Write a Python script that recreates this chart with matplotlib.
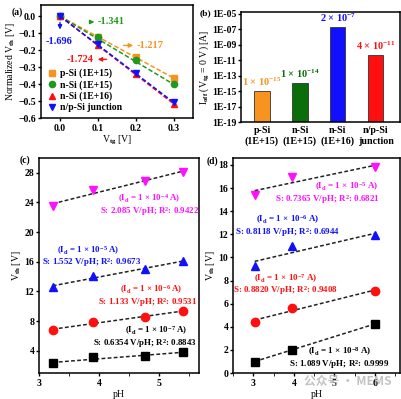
import numpy as np
from matplotlib import pyplot as plt
from matplotlib.ticker import MultipleLocator

plt.rcParams['font.family'] = ['Liberation Serif', 'Noto Sans CJK SC']
plt.rcParams['font.weight'] = 'bold'
plt.rcParams['font.size'] = 7
plt.rcParams['mathtext.fontset'] = 'custom'
plt.rcParams['mathtext.rm'] = 'Liberation Serif:bold'
plt.rcParams['mathtext.it'] = 'Liberation Serif:bold'
plt.rcParams['mathtext.bf'] = 'Liberation Serif:bold'
plt.rcParams['mathtext.default'] = 'rm'
plt.rcParams['axes.linewidth'] = 1.1
plt.rcParams['xtick.major.width'] = 1.0
plt.rcParams['ytick.major.width'] = 1.0
plt.rcParams['xtick.major.size'] = 2.5
plt.rcParams['ytick.major.size'] = 2.5
plt.rcParams['xtick.major.pad'] = 1.5
plt.rcParams['ytick.major.pad'] = 1.0

ORANGE = '#f7931e'
GREEN = '#1f9a1f'
DKGREEN = '#0a6e0a'
BLUE = '#1010ff'
RED = '#ff1010'
MAGENTA = '#ff10ff'

# (a) normalized Vth vs Vtg
vtg = [0.0, 0.1, 0.2, 0.3]
a_names = ['p-Si (1E+15)', 'n-Si (1E+15)', 'n-Si (1E+16)', 'n/p-Si junction']
a_vals = [
    [0.0, -0.12, -0.24, -0.365],
    [0.0, -0.12, -0.255, -0.40],
    [0.0, -0.17, -0.34, -0.515],
    [0.0, -0.165, -0.335, -0.505],
]
a_slopes = [-1.217, -1.341, -1.724, -1.696]

# (b) off current
b_labels = ['p-Si\n(1E+15)', 'n-Si\n(1E+15)', 'n-Si\n(1E+16)', 'n/p-Si\njunction']
b_vals = [1e-15, 1e-14, 2e-7, 4e-11]
b_text = [r'1 × 10$^{-15}$', r'1 × 10$^{-14}$', r'2 × 10$^{-7}$', r'4 × 10$^{-11}$']

# (c) Vth vs pH
c_ph = [3.23, 3.9, 4.77, 5.4]
c_vals = [
    [2.3, 3.1, 3.3, 3.8],
    [6.8, 7.9, 8.5, 9.4],
    [12.6, 14.1, 15.0, 16.1],
    [23.5, 25.7, 26.9, 28.1],
]
c_id = ['7', '6', '5', '4']
c_fit = ['S: 0.6354 V/pH; R$^2$: 0.8843', 'S: 1.133 V/pH; R$^2$: 0.9531',
         'S: 1.552 V/pH; R$^2$: 0.9673', 'S: 2.085 V/pH; R$^2$: 0.9422']

# (d) Vth vs pH
d_ph = [3.03, 3.95, 6.0]
d_vals = [
    [1.0, 2.0, 4.25],
    [4.4, 5.65, 7.1],
    [9.25, 11.0, 11.9],
    [15.4, 17.0, 17.8],
]
d_id = ['8', '7', '6', '5']
d_fit = ['S: 1.089 V/pH; R$^2$: 0.9999', 'S: 0.8820 V/pH; R$^2$: 0.9408',
         'S: 0.8118 V/pH; R$^2$: 0.6944', 'S: 0.7365 V/pH; R$^2$: 0.6821']

fig = plt.figure(figsize=(4.02, 3.99), dpi=100)

# ---- (a)
ax = fig.add_axes([0.102, 0.704, 0.378, 0.283])
a_colors = [ORANGE, GREEN, RED, BLUE]
a_markers = ['s', 'o', '^', 'v']
xs = np.array([0.0, 0.3])
for vals, s, c, m, name in zip(a_vals, a_slopes, a_colors, a_markers, a_names):
    ax.plot(xs, s * xs, '--', color=c, lw=1.1, dashes=(3, 1.5))
    ax.plot(vtg, vals, m, color=c, ms=4.5, ls='none', label=name)
ax.set_xlim(-0.05, 0.35)
ax.set_ylim(-0.6, 0.065)
ax.set_xticks(vtg)
ax.set_yticks(np.arange(-0.6, 0.01, 0.1))
ax.set_xlabel(r'V$_{tg}$ [V]', labelpad=1)
ax.set_ylabel(r'Normalized V$_{th}$ [V]', labelpad=1)
ax.legend(loc='lower left', frameon=False, handlelength=1, handletextpad=0.4,
          labelspacing=0.2, borderaxespad=0.2, fontsize=7)
ax.annotate('', xy=(0.098, -0.034), xytext=(0.07, -0.034),
            arrowprops=dict(arrowstyle='-|>', color=GREEN, lw=1, mutation_scale=6))
ax.text(0.1, -0.034, '-1.341', color=GREEN, fontsize=7.5, va='center')
ax.annotate('', xy=(0.2, -0.172), xytext=(0.16, -0.172),
            arrowprops=dict(arrowstyle='-|>', color=ORANGE, lw=1, mutation_scale=6))
ax.text(0.203, -0.172, '-1.217', color=ORANGE, fontsize=7.5, va='center')
ax.annotate('', xy=(0.092, -0.254), xytext=(0.13, -0.254),
            arrowprops=dict(arrowstyle='-|>', color=RED, lw=1, mutation_scale=6))
ax.text(0.088, -0.254, '-1.724', color=RED, fontsize=7.5, va='center', ha='right')
ax.annotate('', xy=(0.0, -0.095), xytext=(0.0, -0.02),
            arrowprops=dict(arrowstyle='-|>', color=BLUE, lw=1, mutation_scale=6))
ax.text(-0.003, -0.148, '-1.696', color=BLUE, fontsize=7.5, va='center', ha='center')
fig.text(0.028, 0.963, '(a)', fontsize=7)

# ---- (b)
ax = fig.add_axes([0.600, 0.694, 0.395, 0.276])
b_colors = [ORANGE, DKGREEN, BLUE, RED]
pos = np.arange(len(b_vals))
ax.bar(pos, b_vals, width=0.4, color=b_colors, edgecolor='#333333', lw=0.6, bottom=1e-19)
for p, v, t, c in zip(pos, b_vals, b_text, b_colors):
    ax.text(p, v * 2.5, t, color=c, ha='center', va='bottom', fontsize=7.5)
ax.set_yscale('log')
ax.set_ylim(1e-19, 10 ** -4.8)
ax.set_xlim(-0.55, 3.64)
ax.set_yticks([10.0 ** e for e in range(-19, -4, 2)])
ax.set_yticklabels(['1E%03d' % e for e in range(-19, -4, 2)])
ax.yaxis.set_minor_locator(plt.NullLocator())
ax.set_xticks(pos)
ax.set_xticklabels(b_labels, fontsize=7.2, linespacing=1.2)
ax.tick_params(axis='x', length=0, pad=3)
ax.set_ylabel(r'I$_{off}$ (V$_{tg}$ = 0 V) [A]', labelpad=1)
fig.text(0.497, 0.962, '(b)', fontsize=6.8)

# ---- (c)
colors4 = ['black', RED, BLUE, MAGENTA]
markers4 = ['s', 'o', '^', 'v']
ax = fig.add_axes([0.097, 0.065, 0.398, 0.539])
for vals, c, m in zip(c_vals, colors4, markers4):
    k, b = np.polyfit(c_ph, vals, 1)
    xf = np.array([c_ph[0], c_ph[-1]])
    ax.plot(xf, k * xf + b, '--', color='#222222', lw=1.1, dashes=(2.5, 1.5))
    ax.plot(c_ph, vals, m, color=c, ms=6, ls='none')
c_pos = [(4.95, 6.65, 4.77, 4.95), (4.87, 12.25, 4.82, 10.55),
         (3.82, 17.55, 3.87, 15.85), (4.84, 24.45, 4.84, 22.75)]
for i, c in enumerate(colors4):
    x1, y1, x2, y2 = c_pos[i]
    ax.text(x1, y1, '(I$_d$ = 1 × 10$^{-%s}$ A)' % c_id[i], color=c, ha='center', va='center', fontsize=6.4)
    ax.text(x2, y2, c_fit[i], color=c, ha='center', va='center', fontsize=6.4)
ax.set_xlim(3, 5.67)
ax.set_ylim(1, 30)
ax.set_xticks([3, 4, 5])
ax.xaxis.set_minor_locator(MultipleLocator(0.5))
ax.set_yticks([4, 8, 12, 16, 20, 24, 28])
ax.set_xlabel('pH', labelpad=2)
ax.set_ylabel(r'V$_{th}$ [V]', labelpad=1)
fig.text(0.048, 0.593, '(c)', fontsize=7)

# ---- (d)
ax = fig.add_axes([0.580, 0.065, 0.415, 0.539])
for vals, c, m in zip(d_vals, colors4, markers4):
    k, b = np.polyfit(d_ph, vals, 1)
    xf = np.array([d_ph[0], d_ph[-1]])
    ax.plot(xf, k * xf + b, '--', color='#222222', lw=1.1, dashes=(2.5, 1.5))
    ax.plot(d_ph, vals, m, color=c, ms=6, ls='none')
d_pos = [(5.13, 1.87, 5.13, 0.78), (3.8, 8.2, 3.8, 7.1),
         (3.85, 13.3, 3.85, 12.2), (5.3, 16.1, 4.84, 15.0)]
for i, c in enumerate(colors4):
    x1, y1, x2, y2 = d_pos[i]
    ax.text(x1, y1, '(I$_d$ = 1 × 10$^{-%s}$ A)' % d_id[i], color=c, ha='center', va='center', fontsize=6.5)
    ax.text(x2, y2, d_fit[i], color=c, ha='center', va='center', fontsize=6.5)
ax.set_xlim(2.5, 6.62)
ax.set_ylim(0, 18.6)
ax.set_xticks([3, 4, 5, 6])
ax.xaxis.set_minor_locator(MultipleLocator(0.5))
ax.set_yticks(np.arange(0, 19, 2))
ax.set_xlabel('pH', labelpad=2)
ax.set_ylabel(r'V$_{th}$ [V]', labelpad=1)
fig.text(0.513, 0.59, '(d)', fontsize=7)

# watermark
fig.text(0.864, 0.045, '公众号 · MEMS', color='#aaaaaa', alpha=0.7, fontsize=8.5,
         ha='center', va='center', family=['Noto Sans CJK SC', 'DejaVu Sans'])

fig.savefig('out.png', dpi=100)
